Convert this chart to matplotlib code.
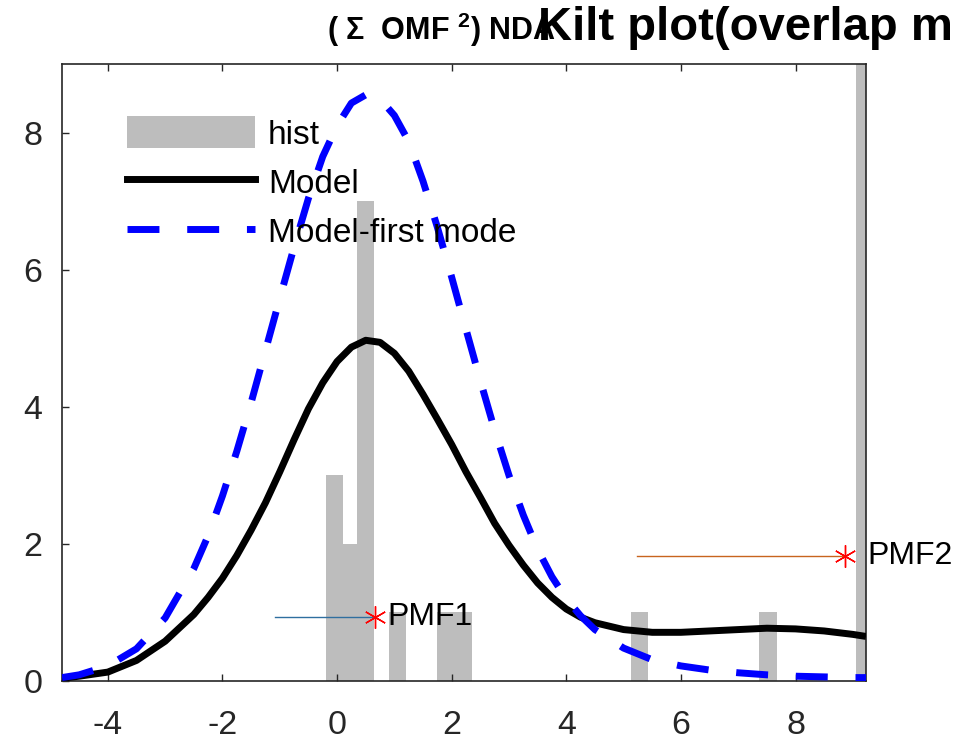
import matplotlib
matplotlib.use("Agg")
import matplotlib.pyplot as plt
from matplotlib.patches import Patch
from matplotlib.lines import Line2D

plt.rcParams['font.family'] = ['Liberation Sans', 'DejaVu Sans']
plt.rcParams['axes.unicode_minus'] = False
plt.rcParams['mathtext.fontset'] = 'custom'
plt.rcParams['mathtext.rm'] = 'Liberation Sans'
plt.rcParams['mathtext.bf'] = 'Liberation Sans:bold'

# ---- data ----
hist_centers = [-0.05, 0.20, 0.50, 1.05, 1.90, 2.20, 5.28, 7.52, 9.20]
hist_counts = [3, 2, 7, 1, 1, 1, 1, 1, 10]

model_x = [-4.8, -4.5, -4.0, -3.5, -3.0, -2.5, -2.25, -2.0, -1.75, -1.5, -1.25, -1.0,
           -0.75, -0.5, -0.25, 0.0, 0.25, 0.5, 0.75, 1.0, 1.25, 1.5, 1.75, 2.0, 2.25,
           2.5, 2.75, 3.0, 3.25, 3.5, 3.75, 4.0, 4.25, 4.5, 5.0, 5.5, 6.0, 6.5, 7.0,
           7.5, 8.0, 8.5, 9.0, 9.23]
model_y = [0.04, 0.07, 0.13, 0.30, 0.58, 0.97, 1.22, 1.50, 1.83, 2.20, 2.60, 3.05,
           3.52, 3.97, 4.35, 4.66, 4.87, 4.97, 4.94, 4.78, 4.52, 4.18, 3.82, 3.45, 3.05,
           2.68, 2.30, 1.98, 1.69, 1.43, 1.22, 1.05, 0.93, 0.85, 0.75, 0.71, 0.71, 0.73,
           0.75, 0.77, 0.76, 0.73, 0.68, 0.65]
first_mode_y = [0.05, 0.09, 0.22, 0.47, 0.92, 1.64, 2.12, 2.70, 3.35, 4.06, 4.82, 5.58,
                6.33, 7.04, 7.65, 8.10, 8.43, 8.55, 8.49, 8.25, 7.87, 7.29, 6.62, 5.89, 5.13,
                4.38, 3.66, 3.00, 2.42, 1.92, 1.52, 1.20, 0.95, 0.75, 0.48, 0.31, 0.22, 0.16,
                0.12, 0.09, 0.07, 0.06, 0.05, 0.05]

pmf_labels = ['PMF1', 'PMF2']
pmf_x = [0.66, 8.86]
pmf_start = [-1.09, 5.23]
pmf_y = [0.93, 1.83]

x_ticks = [-4, -2, 0, 2, 4, 6, 8]
y_ticks = [0, 2, 4, 6, 8]
legend_labels = ['hist', 'Model', 'Model-first mode']

# ---- figure ----
W, H = 961, 748
fig = plt.figure(figsize=(W / 100, H / 100), dpi=100)
ax = fig.add_axes([62 / W, 1 - 681 / H, (866 - 62) / W, (681 - 64) / H])

axis_col = '#262626'
bar_col = '#bdbdbd'

ax.bar(hist_centers, hist_counts, width=0.3, color=bar_col, edgecolor='none', zorder=1)
ax.plot(model_x, model_y, color='black', lw=5, zorder=3, solid_capstyle='butt',
        solid_joinstyle='round')
ax.plot(model_x, first_mode_y, color='#0000ff', lw=5, dashes=(4.6, 4.0),
        dash_capstyle='butt', dash_joinstyle='round', zorder=3)

line_cols = ['#2f6f9f', '#c8641e']
offsets = [12, 23]
for lab, xs, x0, yy, c, off in zip(pmf_labels, pmf_x, pmf_start, pmf_y, line_cols, offsets):
    ax.plot([x0, xs], [yy, yy], color=c, lw=1.0, zorder=4)
    ax.plot([xs], [yy], linestyle='none', marker=(6, 2, 0), markersize=16,
            markeredgecolor='red', markeredgewidth=1.0, color='red', zorder=5)
    ax.annotate(lab, xy=(xs, yy), xytext=(off, 0), textcoords='offset pixels',
                ha='left', va='center', fontsize=23, color='black',
                annotation_clip=False, zorder=6)

ax.set_xlim(-4.8, 9.23)
ax.set_ylim(0, 9)
ax.set_xticks(x_ticks)
ax.set_yticks(y_ticks)
ax.tick_params(direction='in', top=True, right=False, length=5, width=1.0,
               colors=axis_col, labelsize=24.5)
ax.tick_params(axis='x', pad=21)
ax.tick_params(axis='y', pad=14)
for s in ax.spines.values():
    s.set_color(axis_col)
    s.set_linewidth(1.2)

handles = [Patch(facecolor=bar_col, edgecolor='none'),
           Line2D([], [], color='black', lw=5),
           Line2D([], [], color='#0000ff', lw=5, dashes=(4.6, 4.0), dash_capstyle='butt')]
ax.legend(handles, legend_labels, loc='upper left', bbox_to_anchor=(0.081, 0.915),
          frameon=False, fontsize=24, handlelength=3.84, handleheight=1.1,
          handletextpad=0.39, labelspacing=0.45, borderpad=0, borderaxespad=0)

fig.text(327 / W, 1 - 40 / H, r'( Σ  OMF $^{\mathbf{2}}$) NDA', fontsize=22, fontweight='bold',
         ha='left', va='baseline', color='black')
fig.text(538 / W, 1 - 40 / H, 'Kilt plot(overlap m', fontsize=34, fontweight='bold',
         ha='left', va='baseline', color='black')

fig.savefig('out.png', dpi=100)
